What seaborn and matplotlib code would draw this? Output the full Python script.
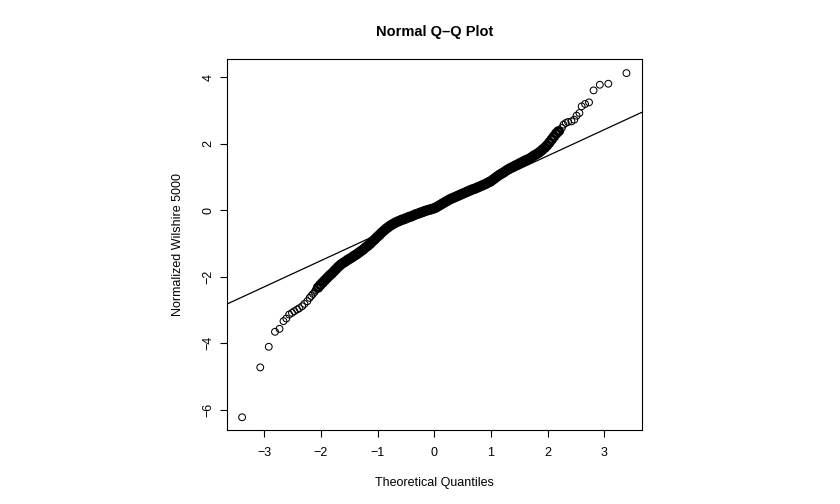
import numpy as np
import pandas as pd
import matplotlib
matplotlib.use("Agg")
import matplotlib.pyplot as plt
import seaborn as sns

# Sample quantiles (theoretical, sample)
lower_tail_x = [-3.39, -3.07, -2.92, -2.81, -2.73, -2.66, -2.61, -2.56, -2.51,
                -2.47, -2.42, -2.38, -2.33, -2.29, -2.24, -2.20, -2.17, -2.14,
                -2.11, -2.09]
lower_tail_y = [-6.23, -4.73, -4.11, -3.66, -3.57, -3.34, -3.26, -3.14, -3.09,
                -3.04, -2.99, -2.95, -2.89, -2.82, -2.74, -2.64, -2.58, -2.52,
                -2.46, -2.40]

body_x = [-2.05, -2.01, -1.97, -1.93, -1.89, -1.85, -1.81, -1.77, -1.73, -1.69,
          -1.65, -1.61, -1.57, -1.53, -1.49, -1.45, -1.41, -1.37, -1.33, -1.29,
          -1.25, -1.21, -1.17, -1.13, -1.09, -1.05, -1.01, -0.97, -0.93, -0.89,
          -0.85, -0.81, -0.77, -0.73, -0.69, -0.65, -0.61, -0.57, -0.53, -0.49,
          -0.45, -0.41, -0.37, -0.33, -0.29, -0.25, -0.21, -0.17, -0.13, -0.09,
          -0.05, -0.01, 0.03, 0.07, 0.11, 0.15, 0.19, 0.23, 0.27, 0.31,
          0.35, 0.39, 0.43, 0.47, 0.51, 0.55, 0.59, 0.63, 0.67, 0.71,
          0.75, 0.79, 0.83, 0.87, 0.91, 0.95, 0.99, 1.03, 1.07, 1.11,
          1.15, 1.19, 1.23, 1.27, 1.31, 1.35, 1.39, 1.43, 1.47, 1.51,
          1.55, 1.59, 1.63, 1.67, 1.71, 1.75, 1.79, 1.83, 1.87, 1.91,
          1.95, 1.99, 2.03, 2.07, 2.11, 2.15, 2.19]
body_y = [-2.33, -2.25, -2.18, -2.11, -2.04, -1.97, -1.91, -1.84, -1.77, -1.70,
          -1.64, -1.59, -1.55, -1.50, -1.46, -1.42, -1.37, -1.33, -1.28, -1.23,
          -1.18, -1.12, -1.07, -1.01, -0.94, -0.88, -0.81, -0.75, -0.68, -0.62,
          -0.56, -0.51, -0.46, -0.42, -0.38, -0.35, -0.32, -0.29, -0.27, -0.24,
          -0.21, -0.19, -0.16, -0.13, -0.11, -0.08, -0.06, -0.03, -0.01, 0.01,
          0.03, 0.05, 0.08, 0.12, 0.16, 0.20, 0.24, 0.28, 0.32, 0.35,
          0.38, 0.41, 0.44, 0.47, 0.50, 0.53, 0.56, 0.59, 0.62, 0.64,
          0.67, 0.70, 0.73, 0.76, 0.79, 0.83, 0.86, 0.91, 0.96, 1.01,
          1.06, 1.10, 1.14, 1.19, 1.23, 1.27, 1.30, 1.34, 1.37, 1.41,
          1.44, 1.48, 1.51, 1.54, 1.58, 1.63, 1.67, 1.71, 1.76, 1.82,
          1.88, 1.95, 2.03, 2.12, 2.21, 2.30, 2.37]

upper_tail_x = [2.22, 2.25, 2.28, 2.32, 2.36, 2.42, 2.47, 2.51, 2.56, 2.60,
                2.66, 2.73, 2.81, 2.92, 3.07, 3.39]
upper_tail_y = [2.37, 2.47, 2.57, 2.62, 2.65, 2.67, 2.72, 2.84, 2.92, 3.12,
                3.19, 3.24, 3.60, 3.77, 3.80, 4.12]

# qqline through the quartiles
line_intercept = 0.056
line_slope = 0.788

x_ticks = [-3, -2, -1, 0, 1, 2, 3]
y_ticks = [-6, -4, -2, 0, 2, 4]

tails = pd.DataFrame({
    "theoretical": lower_tail_x + upper_tail_x,
    "sample": lower_tail_y + upper_tail_y,
})
body = pd.DataFrame({"theoretical": body_x, "sample": body_y})

sns.set_theme(style="white")
plt.rcParams['font.family'] = ['Liberation Sans', 'DejaVu Sans']
plt.rcParams['text.color'] = 'black'
plt.rcParams['axes.labelcolor'] = 'black'
plt.rcParams['xtick.color'] = 'black'
plt.rcParams['ytick.color'] = 'black'

fig = plt.figure(figsize=(8.4, 5.04), dpi=100)
ax = fig.add_axes([0.270, 0.147, 0.494, 0.735])

# the middle of the sample is so dense in the original that it prints solid
sns.scatterplot(data=body, x="theoretical", y="sample", ax=ax, s=30,
                facecolors="none", edgecolors="black", linewidth=2.0)
sns.scatterplot(data=tails, x="theoretical", y="sample", ax=ax, s=24,
                facecolors="none", edgecolors="black", linewidth=0.75)
ax.axline((0, line_intercept), slope=line_slope, color="black", lw=0.9)

ax.set_xlim(-3.66, 3.66)
ax.set_ylim(-6.61, 4.53)
ax.set_xticks(x_ticks)
ax.set_yticks(y_ticks)
for lab in ax.get_yticklabels():
    lab.set_rotation(90)
    lab.set_va("center")
ax.tick_params(axis="both", direction="out", length=5, width=0.8,
               color="black", labelsize=9, bottom=True, left=True)
ax.tick_params(axis="x", pad=7)
ax.tick_params(axis="y", pad=4)

for sp in ax.spines.values():
    sp.set_color("black")
    sp.set_linewidth(0.8)

ax.set_xlabel("Theoretical Quantiles", fontsize=9, labelpad=13)
ax.set_ylabel("Normalized Wilshire 5000", fontsize=9, labelpad=13)
ax.set_title("Normal Q\u2013Q Plot", fontsize=10.5, fontweight="bold", pad=17)

fig.savefig("out.png", dpi=100, facecolor="white")
